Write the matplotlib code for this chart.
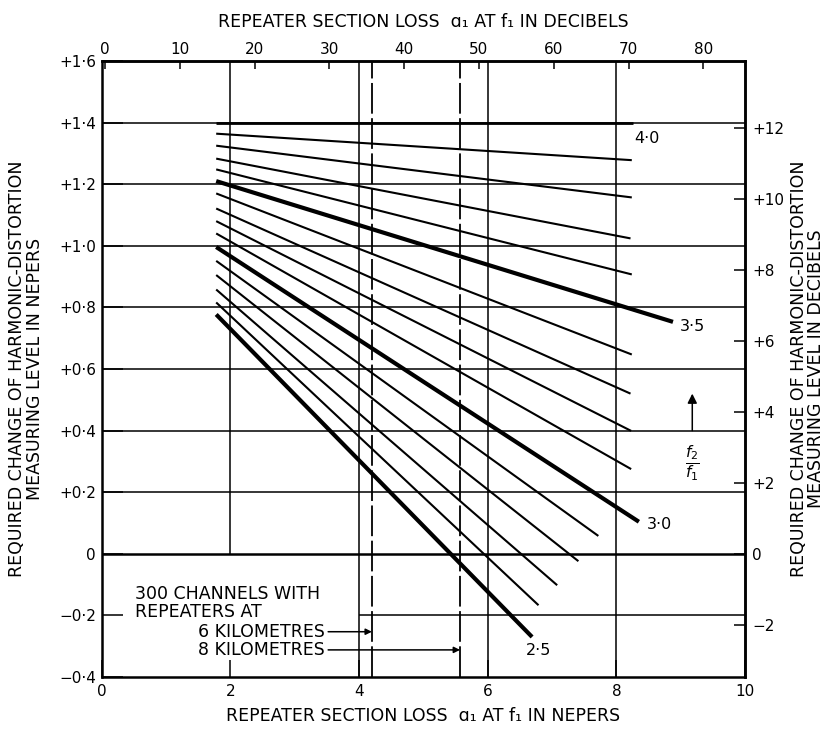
import matplotlib
matplotlib.use('Agg')
import matplotlib.pyplot as plt

# ---------------- data (nepers) ----------------
ratio_values = [2.5, 2.6, 2.7, 2.8, 2.9, 3.0, 3.1, 3.2, 3.3, 3.4, 3.5, 3.6, 3.7, 3.8, 3.9, 4.0]
x_start = [1.78] * 16
y_start = [0.777, 0.816, 0.858, 0.905, 0.951, 0.996, 1.040, 1.080, 1.121, 1.170,
           1.210, 1.248, 1.283, 1.325, 1.364, 1.400]
x_end = [6.69, 6.79, 7.08, 7.41, 7.72, 8.35, 8.23, 8.23, 8.22, 8.24,
         8.88, 8.24, 8.22, 8.24, 8.24, 8.26]
y_end = [-0.270, -0.167, -0.102, -0.024, 0.058, 0.104, 0.275, 0.399, 0.520, 0.647,
         0.753, 0.907, 1.024, 1.157, 1.278, 1.400]
labelled_ratios = ['2·5', '3·0', '3·5', '4·0']

repeater_6km = 4.2
repeater_8km = 5.57

x_ticks = [0, 2, 4, 6, 8, 10]
x_tick_labels = ['0', '2', '4', '6', '8', '10']
y_ticks = [-0.4, -0.2, 0, 0.2, 0.4, 0.6, 0.8, 1.0, 1.2, 1.4, 1.6]
y_tick_labels = ['−0·4', '−0·2', '0', '+0·2', '+0·4', '+0·6', '+0·8', '+1·0', '+1·2', '+1·4', '+1·6']
db_top_ticks = [0, 10, 20, 30, 40, 50, 60, 70, 80]
db_right_ticks = [-2, 0, 2, 4, 6, 8, 10, 12]
db_right_labels = ['−2', '0', '+2', '+4', '+6', '+8', '+10', '+12']

# ---------------- figure ----------------
plt.rcParams['font.family'] = ['DejaVu Sans']
fig = plt.figure(figsize=(8.28, 7.33), dpi=100)
ax = fig.add_axes([0.1228, 0.0764, 0.777, 0.8404])
ax.set_xlim(0, 10)
ax.set_ylim(-0.4, 1.6)

for s in ax.spines.values():
    s.set_linewidth(1.8)

# grid
for v in [0.2, 0.4, 0.6, 0.8, 1.0, 1.2, 1.4]:
    ax.axhline(v, color='black', lw=1.1, zorder=1)
ax.axhline(0, color='black', lw=1.8, zorder=1)
ax.hlines(-0.2, 4, 10, color='black', lw=1.1, zorder=1)
ax.vlines(2, 0, 1.6, color='black', lw=1.1, zorder=1)
for v in [4, 6, 8]:
    ax.axvline(v, color='black', lw=1.1, zorder=1)

# repeater spacing lines
for v in [repeater_6km, repeater_8km]:
    ax.axvline(v, color='black', lw=1.3, ls=(0, (17, 2.5)), zorder=1)

# curves
for r, xs, ys, xe, ye in zip(ratio_values, x_start, y_start, x_end, y_end):
    if abs(r - 4.0) < 1e-6:
        lw = 2.0
    elif abs(r * 2 - round(r * 2)) < 1e-6:
        lw = 3.0
    else:
        lw = 1.5
    ax.plot([xs, xe], [ys, ye], color='black', lw=lw, solid_capstyle='butt', zorder=3)

lab_fs = 11.5
ax.text(6.79, -0.315, labelled_ratios[0], fontsize=lab_fs, ha='center', va='center')
ax.text(8.67, 0.094, labelled_ratios[1], fontsize=lab_fs, ha='center', va='center')
ax.text(9.18, 0.737, labelled_ratios[2], fontsize=lab_fs, ha='center', va='center')
ax.text(8.48, 1.347, labelled_ratios[3], fontsize=lab_fs, ha='center', va='center')

# f2/f1 arrow
ax.annotate('', xy=(9.18, 0.52), xytext=(9.18, 0.40),
            arrowprops=dict(arrowstyle='-|>', lw=1.1, color='black', mutation_scale=14,
                            shrinkA=0, shrinkB=0))
ax.text(9.18, 0.295, r'$\frac{f_2}{f_1}$', fontsize=16, ha='center', va='center')

# repeater annotations
ann_fs = 12.5
ax.text(0.52, -0.130, '300 CHANNELS WITH', fontsize=ann_fs, ha='left', va='center')
ax.text(0.52, -0.188, 'REPEATERS AT', fontsize=ann_fs, ha='left', va='center')
ax.text(3.47, -0.253, '6 KILOMETRES', fontsize=ann_fs, ha='right', va='center')
ax.text(3.47, -0.312, '8 KILOMETRES', fontsize=ann_fs, ha='right', va='center')
for yv, xv in [(-0.253, repeater_6km), (-0.312, repeater_8km)]:
    ax.annotate('', xy=(xv, yv), xytext=(3.52, yv),
                arrowprops=dict(arrowstyle='-|>', lw=1.1, color='black', mutation_scale=9,
                                shrinkA=0, shrinkB=0))

# ticks
tick_fs = 11
ax.set_xticks(x_ticks)
ax.set_xticklabels(x_tick_labels, fontsize=tick_fs)
ax.set_yticks(y_ticks)
ax.set_yticklabels(y_tick_labels, fontsize=tick_fs)
ax.tick_params(axis='x', direction='in', length=12, width=1.1, pad=5)
ax.tick_params(axis='y', direction='in', length=15, width=1.1, pad=4)

top = ax.secondary_xaxis('top', functions=(lambda n: (n - 0.05) * 8.6, lambda d: d / 8.6 + 0.05))
top.set_xticks(db_top_ticks)
top.set_xticklabels([str(t) for t in db_top_ticks], fontsize=tick_fs)
top.tick_params(direction='in', length=6, width=1.1, pad=3)
top.spines['top'].set_linewidth(1.8)

right = ax.secondary_yaxis('right', functions=(lambda n: n * 8.686, lambda d: d / 8.686))
right.set_yticks(db_right_ticks)
right.set_yticklabels(db_right_labels, fontsize=tick_fs)
right.tick_params(direction='in', length=8, width=1.1, pad=5)
right.spines['right'].set_linewidth(1.8)

# axis titles
ttl_fs = 12.5
fig.text(0.511, 1 - 22 / 733, 'REPEATER SECTION LOSS  ɑ₁ AT f₁ IN DECIBELS',
         fontsize=ttl_fs, ha='center', va='center')
fig.text(0.511, 1 - 716 / 733, 'REPEATER SECTION LOSS  ɑ₁ AT f₁ IN NEPERS',
         fontsize=ttl_fs, ha='center', va='center')
yc = 1 - 369 / 733
fig.text(17 / 828, yc, 'REQUIRED CHANGE OF HARMONIC-DISTORTION', rotation=90,
         fontsize=ttl_fs, ha='center', va='center')
fig.text(35 / 828, yc, 'MEASURING LEVEL IN NEPERS', rotation=90,
         fontsize=ttl_fs, ha='center', va='center')
fig.text(799 / 828, yc, 'REQUIRED CHANGE OF HARMONIC-DISTORTION', rotation=90,
         fontsize=ttl_fs, ha='center', va='center')
fig.text(816 / 828, yc, 'MEASURING LEVEL IN DECIBELS', rotation=90,
         fontsize=ttl_fs, ha='center', va='center')

fig.savefig('out.png', dpi=100, facecolor='white')
